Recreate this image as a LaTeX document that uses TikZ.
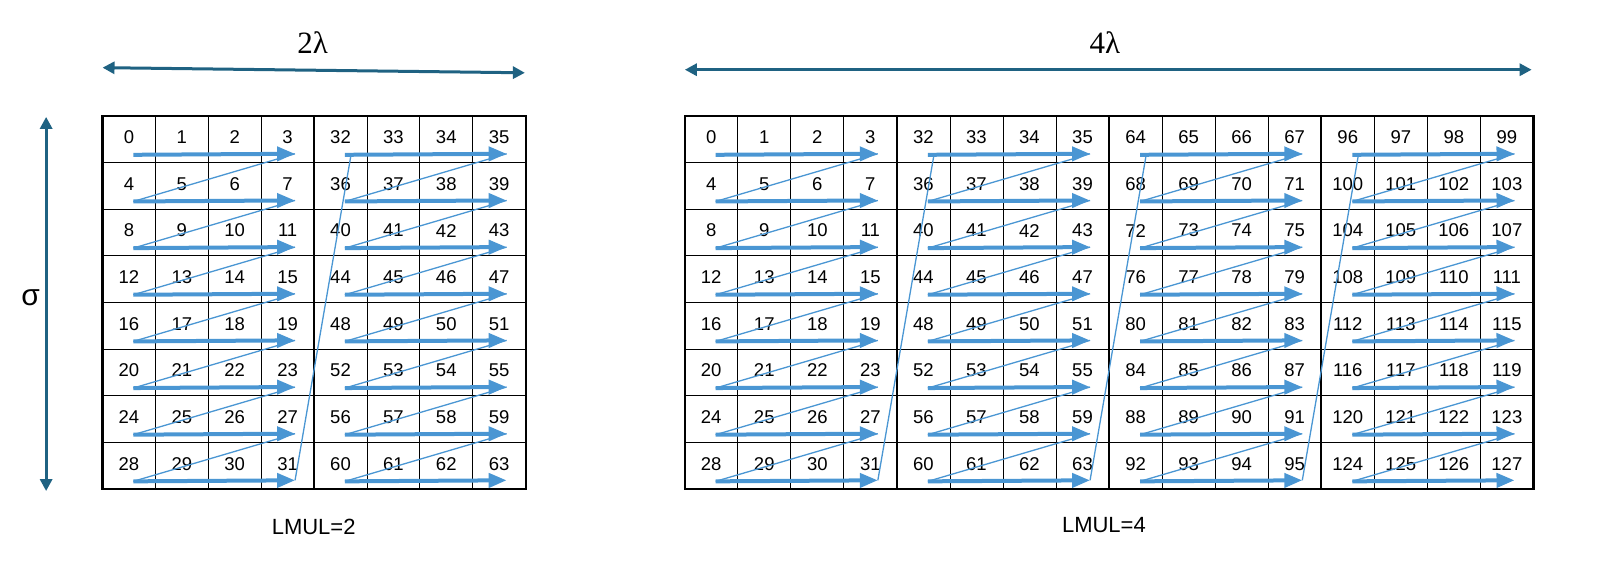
\documentclass[tikz,border=0pt]{standalone}
\usepackage{fontspec}
\setsansfont{Liberation Sans}
\newfontfamily\serifL{Liberation Serif}
\usetikzlibrary{arrows.meta}
\definecolor{ablue}{HTML}{4A96D3}
\definecolor{teal}{HTML}{1F6282}
\begin{document}
\begin{tikzpicture}[x=1pt,y=-1pt,
  num/.style={font=\sffamily\fontsize{18.5}{18.5}\selectfont,inner sep=0pt},
  thick arr/.style={ablue,line width=4pt,-{Triangle[length=18pt,width=14pt]}},
  thin/.style={ablue,line width=1.3pt},
  dim/.style={teal,line width=3pt,{Triangle[length=12pt,width=12pt]}-{Triangle[length=12pt,width=12pt]}},
  lab/.style={font=\sffamily\fontsize{22}{22}\selectfont}]
\begin{scope}[scale=1.025]
\foreach \X/\W/\G/\P in {100/51.6/2/L,668/51.75/4/R}{
  \pgfmathsetmacro{\Xe}{\X+4*\G*\W}
  \foreach \i in {1,...,7} \draw[line width=0.8pt] (\X,113+\i*45.5) -- (\Xe,113+\i*45.5);
  \pgfmathtruncatemacro{\NC}{4*\G-1}
  \foreach \i in {1,...,\NC} \draw[line width=0.8pt] (\X+\i*\W,113) -- (\X+\i*\W,477);
  \pgfmathtruncatemacro{\NG}{\G-1}
  \foreach \g in {1,...,\NG} \draw[line width=2pt] (\X+4*\g*\W,113) -- (\X+4*\g*\W,477);
  \draw[line width=2.2pt] (\X,113) rectangle (\Xe,477);
  \foreach \g in {0,...,\NG}{
    \foreach \r in {0,...,7}{
      \foreach \c in {0,...,3}{
        \pgfmathtruncatemacro{\n}{32*\g+4*\r+\c}
        \node[num] (\P n\n) at (\X+4*\g*\W+\c*\W+\W/2,113+\r*45.5+21) {\n};
      }
      \coordinate (\P s\g-\r) at (\X+4*\g*\W+30,113+\r*45.5+38);
      \coordinate (\P e\g-\r) at (\X+4*\g*\W+3*\W+33,113+\r*45.5+37);
    }
  }
  \foreach \g in {0,...,\NG}{
    \foreach \r in {0,...,7} \draw[thick arr] (\P s\g-\r) -- (\P e\g-\r);
    \foreach \r [evaluate=\r as \q using int(\r+1)] in {0,...,6} \draw[thin] (\P s\g-\q) -- (\P e\g-\r);
  }
  \foreach \g [evaluate=\g as \h using int(\g-1)] in {1,...,\NG} \draw[thin] (\P e\h-7) -- ([xshift=6pt]\P s\g-0);
}
\coordinate (a1) at (100,66); \coordinate (a2) at (512,71);
\draw[dim] (a1) -- (a2);
\node[font=\serifL\fontsize{31}{31}\selectfont] (t1) at (305,42) {2λ};
\coordinate (b1) at (668,68); \coordinate (b2) at (1494,68);
\draw[dim] (b1) -- (b2);
\node[font=\serifL\fontsize{31}{31}\selectfont] (t2) at (1078,42) {4λ};
\coordinate (c1) at (45,114); \coordinate (c2) at (45,479);
\draw[dim] (c1) -- (c2);
\node[font=\sffamily\fontsize{30}{30}\selectfont] (s) at (30,290) {σ};
\node[lab] (l1) at (306,514) {LMUL=2};
\node[lab] (l2) at (1077,512) {LMUL=4};
\end{scope}
\pgfresetboundingbox
\useasboundingbox (0,0) rectangle (1609,561);
\end{tikzpicture}
\end{document}
